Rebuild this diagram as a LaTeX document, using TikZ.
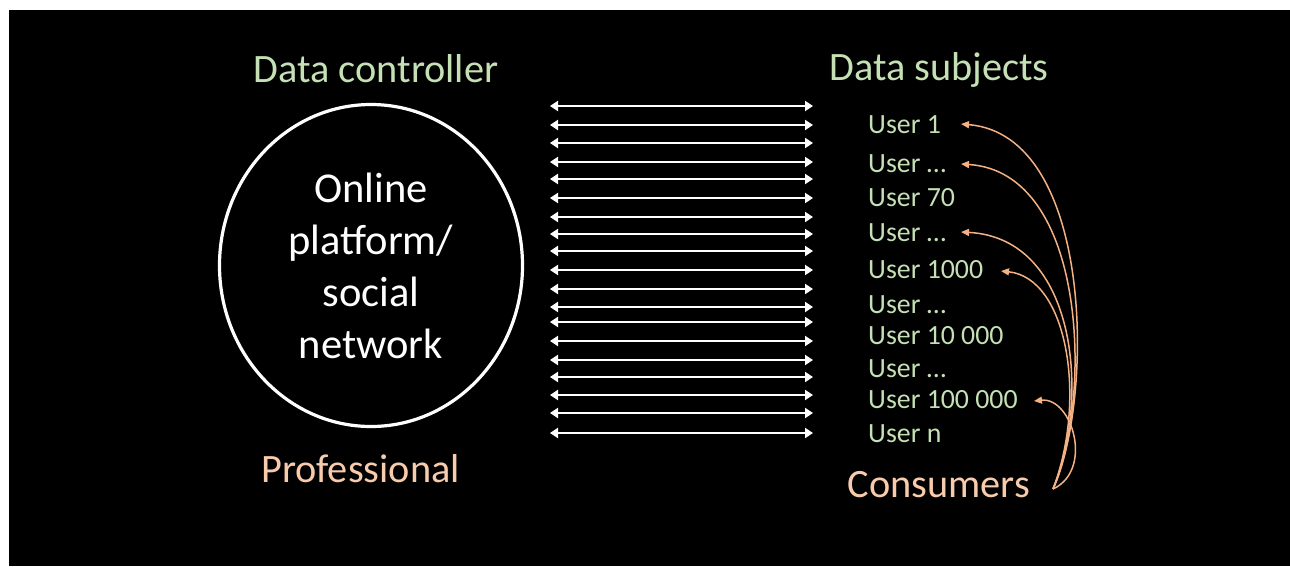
\documentclass[tikz,border=0pt]{standalone}
\usepackage{fontspec}
\setmainfont{Carlito}
\usetikzlibrary{arrows.meta,shapes.geometric}
\definecolor{ttgreen}{HTML}{C5E0B4}
\definecolor{ttorange}{HTML}{F8CBAD}
\definecolor{curveor}{HTML}{F4B183}
\tikzset{
  title/.style={anchor=base,inner sep=0pt,font=\fontsize{40.3}{48}\selectfont},
  user/.style={anchor=base west,inner sep=0pt,text=ttgreen,font=\fontsize{27.8}{33}\selectfont},
  biarrow/.style={draw=white,line width=2pt,{Triangle[length=8pt,width=10pt]}-{Triangle[length=8pt,width=10pt]}},
  consarrow/.style={draw=curveor,line width=1.5pt,-{Triangle[length=8pt,width=7pt]}},
}
\begin{document}
\begin{tikzpicture}[x=1pt,y=-1pt]
\useasboundingbox (0,0) rectangle (1290,566);
\fill[white] (0,0) rectangle (1290,566);
\fill[black] (9,10) rectangle (1290,566);
% titles
\node[title,text=ttgreen] (dc) at (376,82) {Data controller};
\node[title,text=ttgreen] (ds) at (939,80) {Data subjects};
\node[title,text=ttorange] (prof) at (360.5,482) {Professional};
\node[title,text=ttorange] (cons) at (939,497) {Consumers};
% ellipse
\node[draw=white,line width=3.2pt,ellipse,minimum width=303pt,minimum height=322pt,inner sep=0pt] (plat) at (371,265.5) {};
\node[text=white,align=center,inner sep=0pt,font=\fontsize{42.5}{52}\selectfont] (plattext) at (371,265.5) {Online\\platform/\\social\\network};
% arrows
\foreach \y [count=\i] in {106,125,143,162,179,198,217,234,251,270,289,307,322,341,360,377,395,413,433}{
  \coordinate (L\i) at (550,\y);
  \coordinate (R\i) at (813,\y);
  \draw[biarrow] (L\i) -- (R\i);
}
% users
\node[user] (u1) at (868,133) {User 1};
\node[user] (u2) at (868,172) {User \dots};
\node[user] (u3) at (868,206) {User 70};
\node[user] (u4) at (868,241) {User \dots};
\node[user] (u5) at (868,278) {User 1000};
\node[user] (u6) at (868,313) {User \dots};
\node[user] (u7) at (868,344) {User 10 000};
\node[user] (u8) at (868,377) {User \dots};
\node[user] (u9) at (868,408) {User 100 000};
\node[user] (u10) at (868,442) {User n};
% consumer curves
\coordinate (cs) at (1053,489);
\coordinate (t1) at (961,124);
\coordinate (t2) at (961,164);
\coordinate (t4) at (961,232);
\coordinate (t5) at (1001,271);
\coordinate (t9) at (1034,401);
\draw[consarrow] (cs) .. controls (1094,400) and (1094,135) .. (t1);
\draw[consarrow] (cs) .. controls (1092,400) and (1088,172) .. (t2);
\draw[consarrow] (cs) .. controls (1090,400) and (1078,238) .. (t4);
\draw[consarrow] (cs) .. controls (1087,400) and (1068,278) .. (t5);
\draw[consarrow] (cs) .. controls (1094,470) and (1072,397) .. (t9);
\end{tikzpicture}
\end{document}
